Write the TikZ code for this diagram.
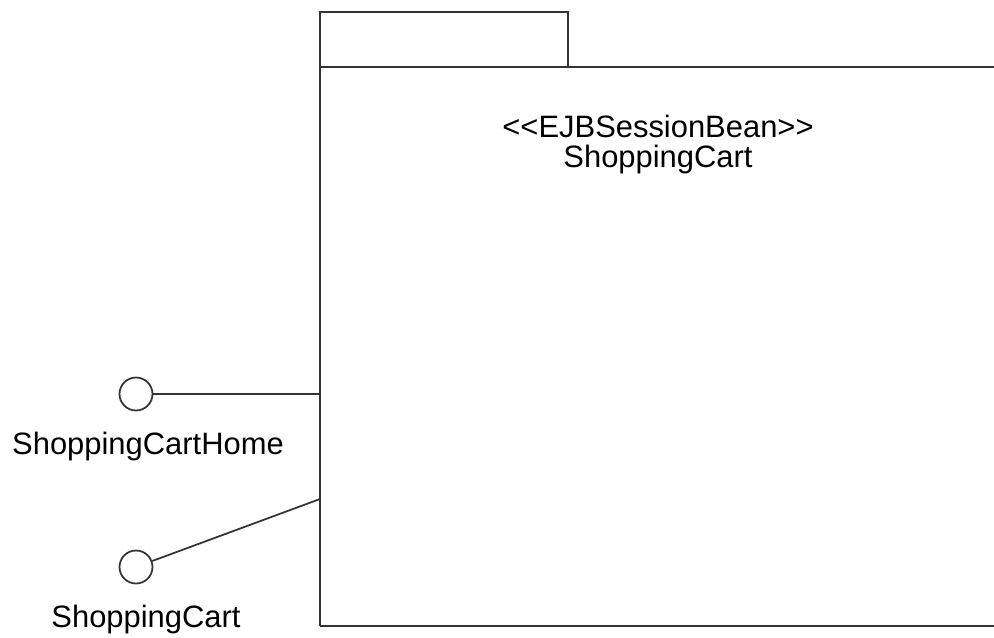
\documentclass[tikz,border=0pt]{standalone}
\usepackage{fontspec}
\setmainfont{Liberation Sans}[Ligatures=TeXOff]
\usetikzlibrary{positioning}
\begin{document}
\begin{tikzpicture}[
  x=0.02cm, y=-0.02cm,
  node distance=0.4cm,
  line width=1pt, draw=black!80,
  iface/.style={draw=black!80,circle,minimum size=0.66cm,inner sep=0pt},
  lbl/.style={font=\fontsize{17.6}{21}\selectfont,inner sep=0pt},
]
\useasboundingbox (0,0) rectangle (994,637);
% package with tab
\draw[black!80] (320,626) -- (320,12) -- (568,12) -- (568,67);
\draw[black!80] (320,67) -- (994,67);
\draw[black!80] (320,626) -- (994,626);
\node[lbl,anchor=base] (st) at (658,137) {<<EJBSessionBean>>};
\node[lbl,anchor=base] (bean) at (658,167) {ShoppingCart};
% interfaces
\node[iface] (home) at (136,394) {};
\node[iface] (cart) at (136,567) {};
\coordinate (homep) at (320,394);
\coordinate (cartp) at (320,499);
\node[lbl,below=of home,xshift=0.24cm] (homel) {ShoppingCartHome};
\node[lbl,below=of cart,xshift=0.2cm] (cartl) {ShoppingCart};
\draw[black!80] (home) -- (homep);
\draw[black!80] (cart) -- (cartp);
\end{tikzpicture}
\end{document}
